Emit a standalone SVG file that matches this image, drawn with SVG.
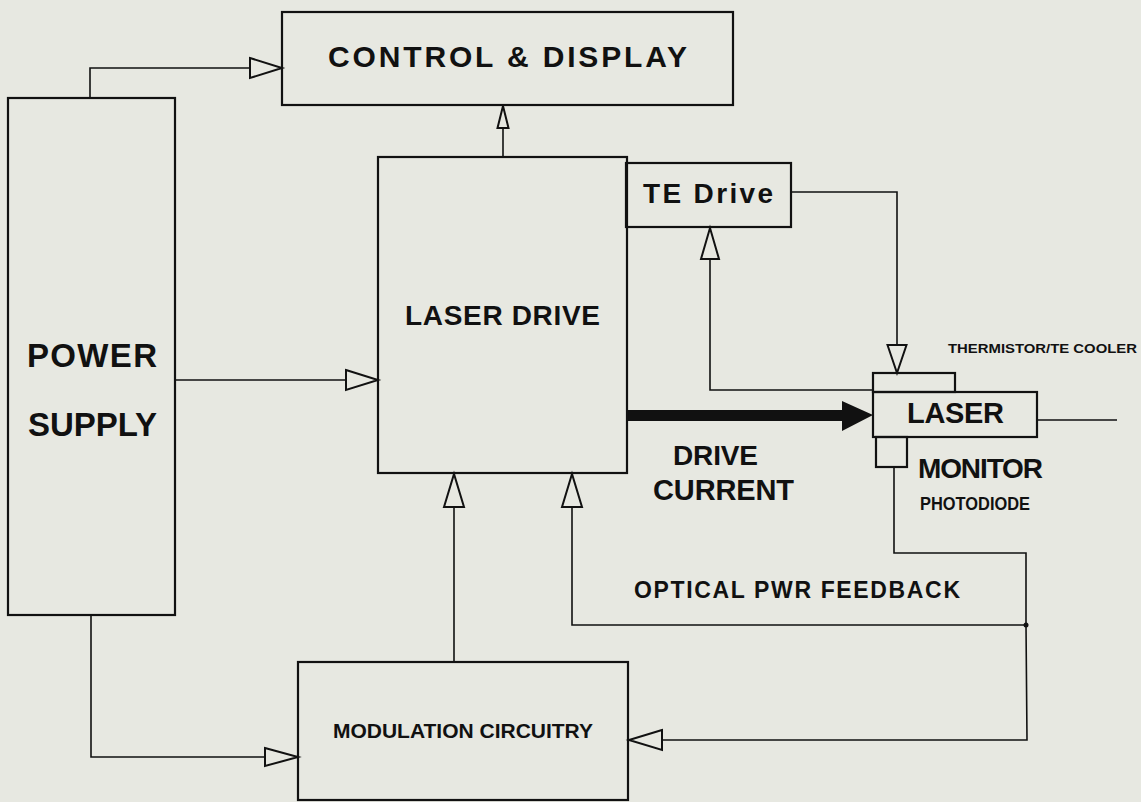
<svg xmlns="http://www.w3.org/2000/svg" width="1141" height="802" viewBox="0 0 1141 802">
<style>
.box{fill:none;stroke:#111;stroke-width:2.2}
.ln{fill:none;stroke:#111;stroke-width:1.6}
.ah{fill:#e7e8e1;stroke:#111;stroke-width:2}
.t{font-family:"Liberation Sans",Arial,sans-serif;font-weight:bold;fill:#111}
</style>
<rect width="1141" height="802" fill="#e7e8e1"/>
<g id="connectors">
  <!-- power -> control -->
  <polyline class="ln" points="90,98 90,68 250,68"/>
  <polygon class="ah" points="250,58 282,68 250,78"/>
  <!-- laser drive -> control -->
  <line class="ln" x1="503" y1="157" x2="503" y2="128"/>
  <polygon class="ah" points="497.5,128 503,106 508.5,128"/>
  <!-- power -> laser drive -->
  <line class="ln" x1="175" y1="380" x2="346" y2="380"/>
  <polygon class="ah" points="346,370 378,380 346,390"/>
  <!-- TE drive -> cooler -->
  <polyline class="ln" points="791,192 897,192 897,345"/>
  <polygon class="ah" points="887.5,345 897,373 906.5,345"/>
  <!-- cooler -> TE drive -->
  <polyline class="ln" points="873,390 710,390 710,259"/>
  <polygon class="ah" points="701,259 710,228 719,259"/>
  <!-- drive current -->
  <polygon points="627,410 842,410 842,401 873,415 842,431 842,421 627,421" fill="#111"/>
  <!-- laser output -->
  <line class="ln" x1="1037" y1="420" x2="1117" y2="420"/>
  <!-- photodiode feedback -->
  <polyline class="ln" points="894,467 894,553 1026,553 1026,625 572,625 572,507"/>
  <polygon class="ah" points="562,507 572,474 582,507"/>
  <circle cx="1026" cy="625" r="2.5" fill="#111"/>
  <polyline class="ln" points="1026,625 1027,740 662,740"/>
  <polygon class="ah" points="662,730 629,740 662,750"/>
  <!-- modulation -> laser drive -->
  <line class="ln" x1="454" y1="662" x2="454" y2="507"/>
  <polygon class="ah" points="444,507 454,474 464,507"/>
  <!-- power -> modulation -->
  <polyline class="ln" points="91,615 91,757 265,757"/>
  <polygon class="ah" points="265,748 298,757 265,766"/>
</g>
<g id="control-display">
  <rect class="box" x="282" y="12" width="451" height="93"/>
  <text class="t" x="328" y="67" font-size="30" textLength="359" lengthAdjust="spacing">CONTROL &amp; DISPLAY</text>
</g>
<g id="power-supply">
  <rect class="box" x="8" y="98" width="167" height="517"/>
  <text class="t" x="27" y="367" font-size="33" textLength="130" lengthAdjust="spacing">POWER</text>
  <text class="t" x="28" y="436" font-size="33" textLength="129" lengthAdjust="spacing">SUPPLY</text>
</g>
<g id="laser-drive">
  <rect class="box" x="378" y="157" width="249" height="316"/>
  <text class="t" x="405" y="325" font-size="28" textLength="195" lengthAdjust="spacing">LASER DRIVE</text>
</g>
<g id="te-drive">
  <rect class="box" x="626" y="163" width="165" height="64"/>
  <text class="t" x="643" y="203" font-size="28" textLength="130" lengthAdjust="spacing">TE Drive</text>
</g>
<g id="te-cooler">
  <rect class="box" x="873" y="373" width="82" height="19"/>
  <text class="t" x="948" y="353" font-size="12" textLength="189" lengthAdjust="spacingAndGlyphs">THERMISTOR/TE COOLER</text>
</g>
<g id="laser">
  <rect class="box" x="873" y="392" width="164" height="45"/>
  <text class="t" x="907" y="423" font-size="29" textLength="97" lengthAdjust="spacing">LASER</text>
</g>
<g id="photodiode">
  <rect class="box" x="876" y="437" width="31" height="30"/>
  <text class="t" x="918" y="478" font-size="28" textLength="125" lengthAdjust="spacing">MONITOR</text>
  <text class="t" x="920" y="510" font-size="19" textLength="110" lengthAdjust="spacingAndGlyphs">PHOTODIODE</text>
</g>
<g id="drive-current-label">
  <text class="t" x="673" y="465" font-size="28" textLength="85" lengthAdjust="spacing">DRIVE</text>
  <text class="t" x="653" y="500" font-size="29" textLength="141" lengthAdjust="spacing">CURRENT</text>
</g>
<g id="feedback-label">
  <text class="t" x="634" y="598" font-size="23" textLength="326" lengthAdjust="spacing">OPTICAL PWR FEEDBACK</text>
</g>
<g id="modulation">
  <rect class="box" x="298" y="662" width="330" height="138"/>
  <text class="t" x="333" y="738" font-size="20" textLength="260" lengthAdjust="spacingAndGlyphs">MODULATION CIRCUITRY</text>
</g>
</svg>
